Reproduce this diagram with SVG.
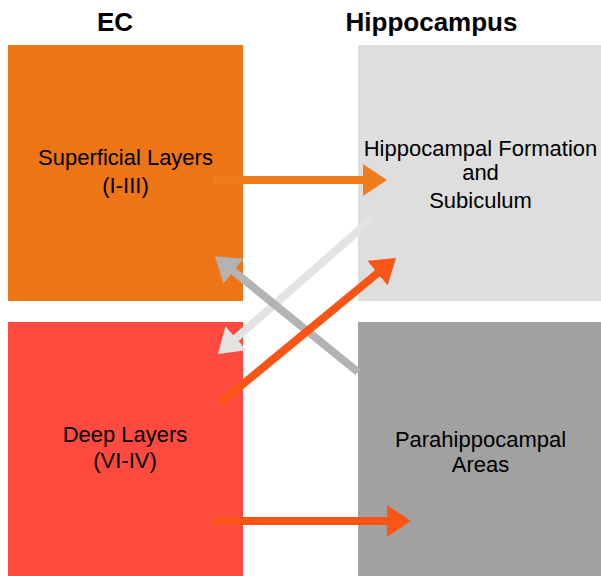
<svg xmlns="http://www.w3.org/2000/svg" width="601" height="576" viewBox="0 0 601 576">
<style>
text{font-family:"Liberation Sans",Arial,sans-serif;fill:#000;text-anchor:middle}
.h{font-size:26px;font-weight:bold}
.l{font-size:22px}
.a{stroke-width:8;fill:none}
</style>
<defs>
<marker id="mO" markerUnits="userSpaceOnUse" markerWidth="26" markerHeight="34" refX="2" refY="16" orient="auto"><path d="M0,0L24,16L0,32z" fill="#F07D19"/></marker>
<marker id="mL" markerUnits="userSpaceOnUse" markerWidth="26" markerHeight="34" refX="2" refY="16" orient="auto"><path d="M0,0L24,16L0,32z" fill="#E3E3E1"/></marker>
<marker id="mG" markerUnits="userSpaceOnUse" markerWidth="26" markerHeight="34" refX="2" refY="16" orient="auto"><path d="M0,0L24,16L0,32z" fill="#B3B3B3"/></marker>
<marker id="mR" markerUnits="userSpaceOnUse" markerWidth="26" markerHeight="34" refX="2" refY="16" orient="auto"><path d="M0,0L24,16L0,32z" fill="#FA5516"/></marker>
</defs>
<text class="h" x="115" y="31">EC</text>
<text class="h" x="431.5" y="31">Hippocampus</text>
<g id="superficial">
<rect x="8" y="45" width="235" height="256" fill="#EC7516"/>
<text class="l" x="125.5" y="165">Superficial Layers</text>
<text class="l" x="125.5" y="193">(I-III)</text>
</g>
<g id="hippocampal">
<rect x="358" y="45" width="243" height="256" fill="#DEDEDE"/>
<text class="l" x="480.5" y="155.5">Hippocampal Formation</text>
<text class="l" x="480.5" y="180">and</text>
<text class="l" x="480.5" y="207.5">Subiculum</text>
</g>
<g id="deep">
<rect x="8" y="322" width="235" height="254" fill="#FF4A3F"/>
<text class="l" x="125" y="441.5">Deep Layers</text>
<text class="l" x="125" y="468">(VI-IV)</text>
</g>
<g id="parahippocampal">
<rect x="358" y="322" width="243" height="254" fill="#A1A1A1"/>
<text class="l" x="480.5" y="446.5">Parahippocampal</text>
<text class="l" x="480.5" y="472">Areas</text>
</g>
<g id="connectors">
<line class="a" x1="213" y1="180" x2="365" y2="180" stroke="#F07D19" marker-end="url(#mO)"/>
<line class="a" x1="374" y1="217" x2="234.5" y2="339.5" stroke="#E3E3E1" marker-end="url(#mL)"/>
<line class="a" x1="358" y1="372" x2="232" y2="270" stroke="#B3B3B3" marker-end="url(#mG)"/>
<line class="a" x1="220" y1="403" x2="379" y2="272" stroke="#FA5516" marker-end="url(#mR)"/>
<line class="a" x1="213" y1="521" x2="389" y2="521" stroke="#FA5516" marker-end="url(#mR)"/>
</g>
</svg>
